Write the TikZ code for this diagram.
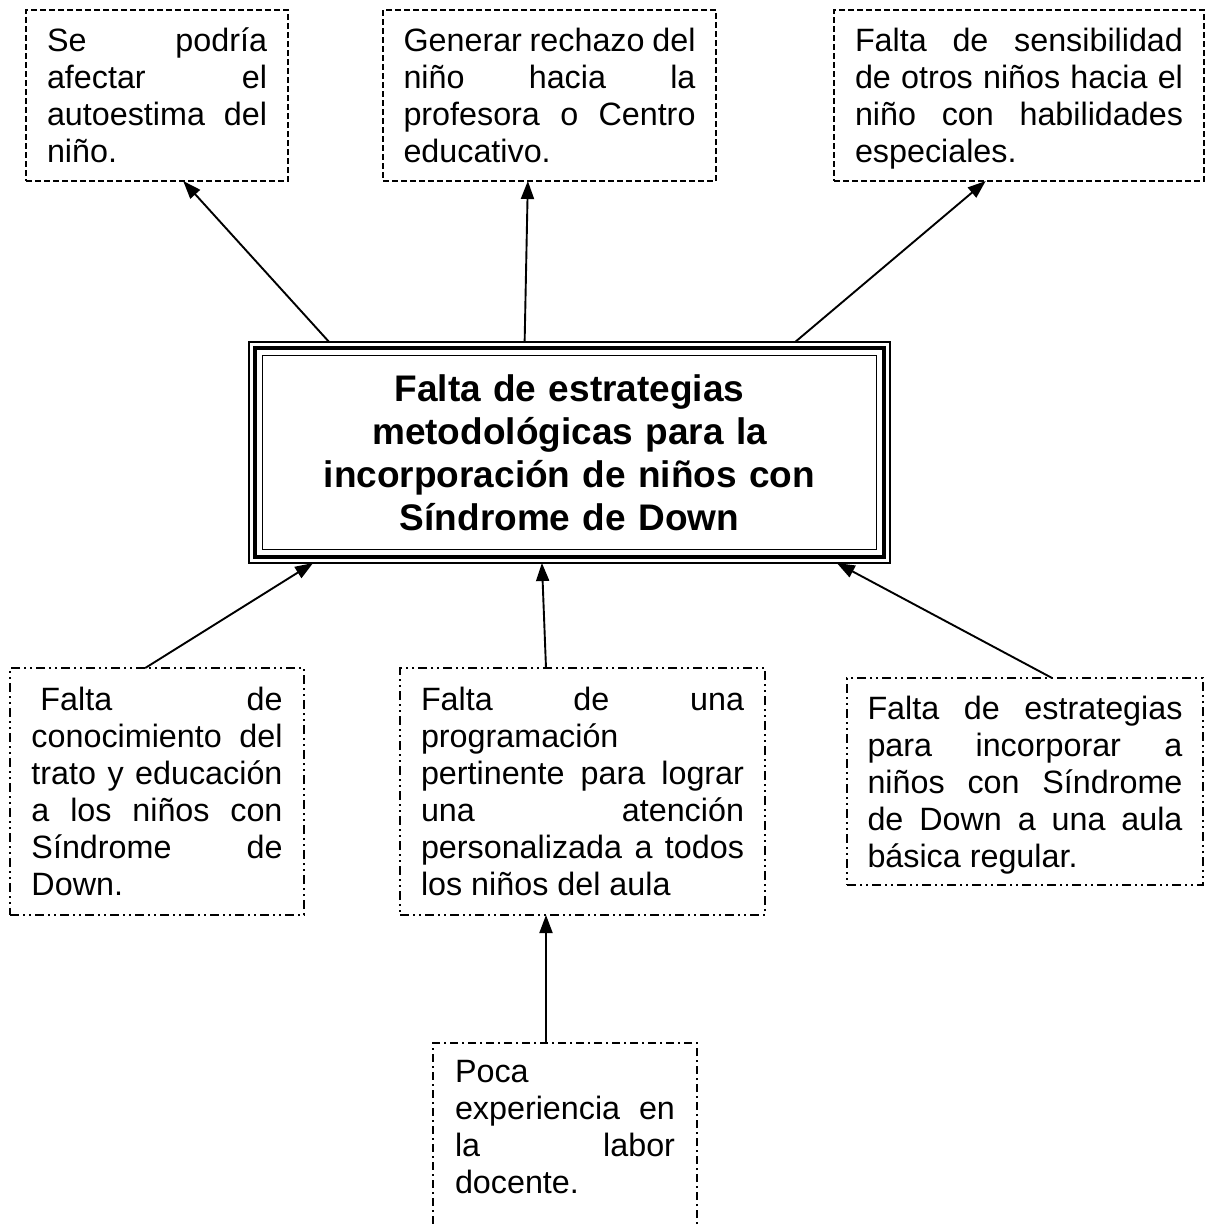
\documentclass[tikz,border=0pt]{standalone}
\usepackage{fontspec}
\setmainfont{Liberation Sans}
\usetikzlibrary{arrows.meta,calc}
\newcommand{\txtfont}{\fontsize{16.15pt}{18.5pt}\selectfont\hyphenpenalty=10000\relax}
\newcommand{\ttlfont}{\fontsize{18.5pt}{21.5pt}\selectfont\bfseries}
\newcommand{\hs}{\rule{0pt}{15.5pt}}
\newcommand{\ds}{\rule[-4pt]{0pt}{4pt}}
\begin{document}
\begin{tikzpicture}[x=0.5pt,y=-0.5pt,
  boxbase/.style={draw, line width=0.6pt, rectangle, anchor=north west,
    inner sep=0pt, outer sep=0pt, align=justify, font=\txtfont},
  dashbox/.style={boxbase, dash pattern=on 3pt off 1.5pt},
  ddbox/.style={boxbase, dash pattern=on 4.5pt off 2pt on 1pt off 2pt on 1pt off 2pt},
  dotbox/.style={boxbase, dash pattern=on 4pt off 2pt on 1pt off 2pt},
  mainbox/.style={draw, line width=0.8pt, rectangle, anchor=north west,
    inner sep=0pt, outer sep=0pt, align=center, font=\ttlfont,
    minimum width=320.5pt, minimum height=110.5pt, text width=300pt},
  arr/.style={line width=0.95pt, -{Triangle[length=9pt,width=6.5pt]}}
]
\useasboundingbox (0,0) rectangle (1206,1227);

% top boxes
\node[dashbox, minimum width=131pt, minimum height=85.5pt, text width=110pt] (tl) at (26,10)
 {\hs Se podría\linebreak afectar el\linebreak autoestima del\linebreak niño.\ds};
\node[dashbox, minimum width=166.5pt, minimum height=85.5pt, text width=146pt] (tm) at (383,10)
 {\hs Generar rechazo del\linebreak niño hacia la\linebreak profesora o Centro\linebreak educativo.\ds};
\node[dashbox, minimum width=185pt, minimum height=85.5pt, text width=164pt] (tr) at (834,10)
 {\hs Falta de sensibilidad\linebreak de otros niños hacia el\linebreak niño con habilidades\linebreak especiales.\ds};

% central box
\node[mainbox] (c) at (249,342)
 {Falta de estrategias\\ metodológicas para la\\ incorporación de niños con\\ Síndrome de Down};
\draw[line width=2.1pt] ($(c.north west)+(6,6)$) rectangle ($(c.south east)+(-6,-6)$);
\draw[line width=0.8pt] ($(c.north west)+(13.5,13.5)$) rectangle ($(c.south east)+(-13.5,-13.5)$);

% bottom boxes
\node[ddbox, minimum width=147pt, minimum height=123.5pt, text width=125.5pt] (bl) at (10,668)
 {\hs\hspace*{0.278em}Falta de\linebreak conocimiento del\linebreak trato y educación\linebreak a los niños con\linebreak Síndrome de\linebreak Down.\ds};
\node[ddbox, minimum width=182.5pt, minimum height=123.5pt, text width=161.5pt] (bm) at (400,668)
 {\hs Falta de una\linebreak programación\hfill\break pertinente para lograr\linebreak una atención\linebreak personalizada a todos\linebreak los niños del aula\ds};
\node[ddbox, minimum width=178pt, minimum height=103.5pt, text width=157.5pt] (br) at (847,678)
 {\hs Falta de estrategias\linebreak para incorporar a\linebreak niños con Síndrome\linebreak de Down a una aula\linebreak básica regular.\ds};
\node[dotbox, minimum width=132pt, minimum height=108.5pt, text width=110pt] (bb) at (433,1043)
 {\hs Poca\hfill\break experiencia en\linebreak la labor\linebreak docente.\rule[-29.5pt]{0pt}{29.5pt}};

% arrows
\draw[arr] ($(c.north west)!0.125!(c.north east)$) -- ($(tl.south west)!0.6!(tl.south east)$);
\draw[arr] ($(c.north west)!0.43!(c.north east)$) -- ($(tm.south west)!0.435!(tm.south east)$);
\draw[arr] ($(c.north west)!0.852!(c.north east)$) -- ($(tr.south west)!0.41!(tr.south east)$);
\draw[arr] ($(bl.north west)!0.46!(bl.north east)$) -- ($(c.south west)!0.1!(c.south east)$);
\draw[arr] ($(bm.north west)!0.4!(bm.north east)$) -- ($(c.south west)!0.457!(c.south east)$);
\draw[arr] ($(br.north west)!0.576!(br.north east)$) -- ($(c.south west)!0.917!(c.south east)$);
\draw[arr] ($(bb.north west)!0.428!(bb.north east)$) -- ($(bm.south west)!0.4!(bm.south east)$);
\end{tikzpicture}
\end{document}
